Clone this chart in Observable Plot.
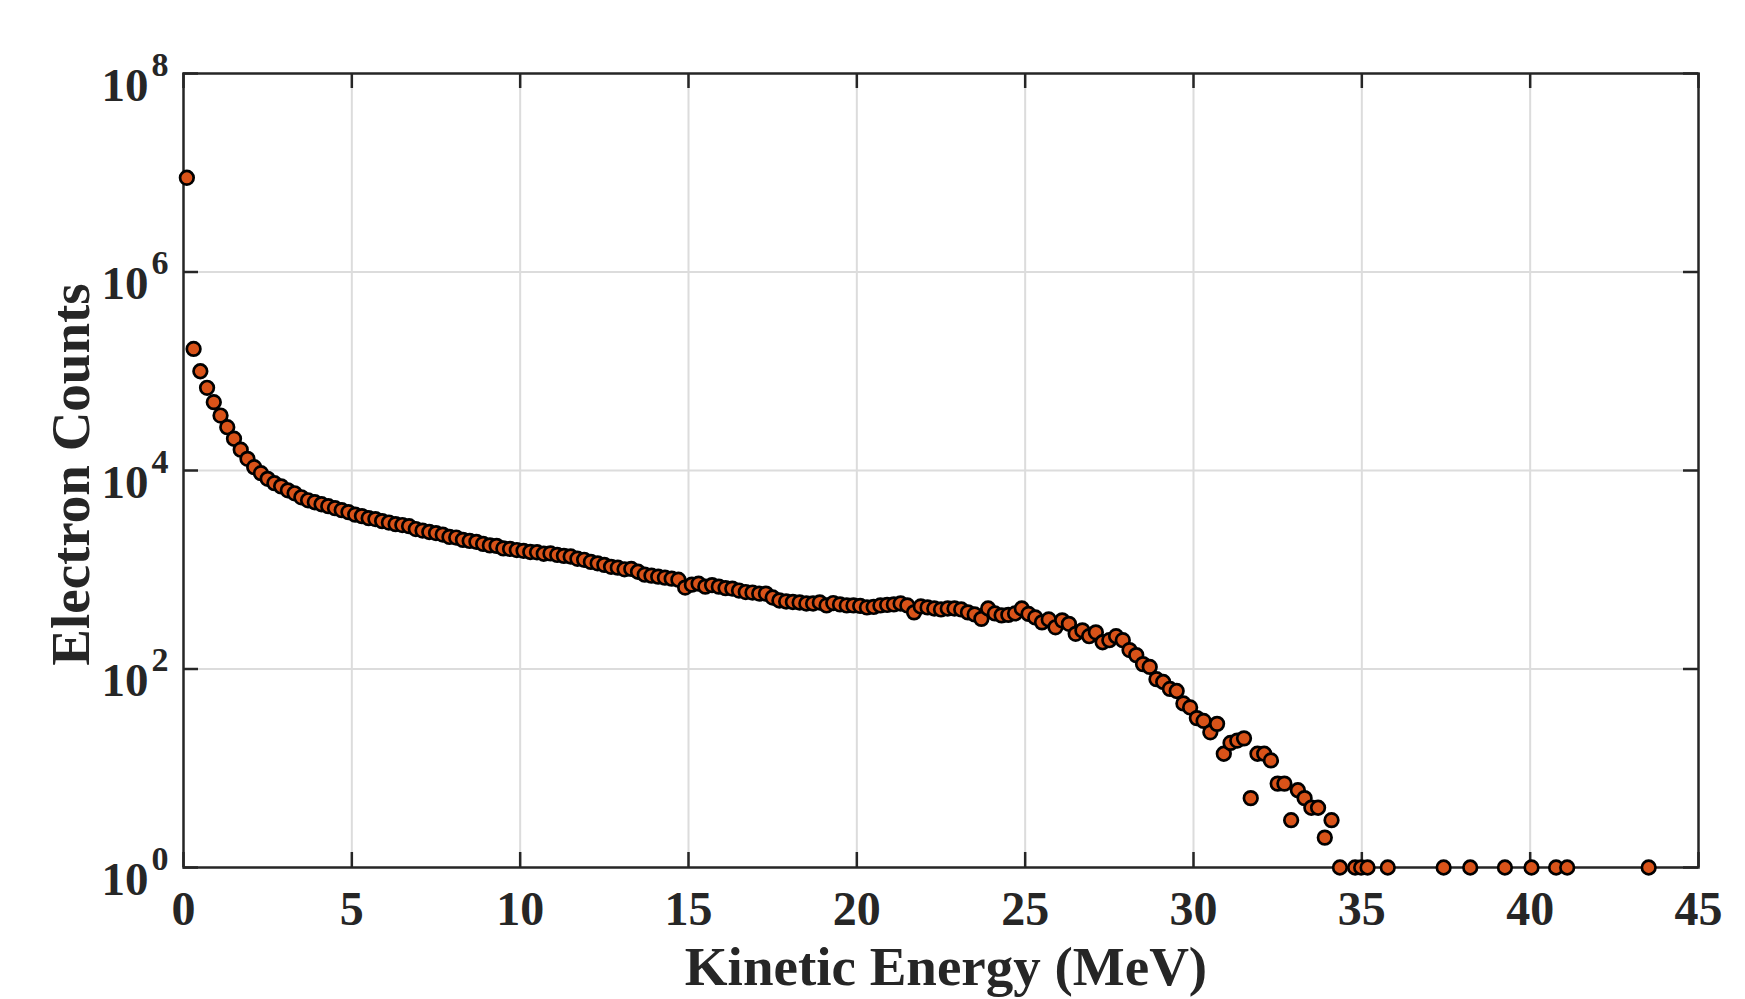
<!DOCTYPE html>
<html>
<head>
<meta charset="utf-8">
<script src="https://cdn.jsdelivr.net/npm/d3@7"></script>
<script src="https://cdn.jsdelivr.net/npm/@observablehq/plot@0.6"></script>
<style>
  html, body { margin: 0; padding: 0; background: #ffffff; }
  #chart svg { display: block; }
</style>
</head>
<body>
<div id="chart"></div>
<script>
// Kinetic energy bin centres (MeV) and electron counts
const energyMeV = [
  0.1, 0.3, 0.5, 0.7, 0.9, 1.1, 1.3, 1.5, 1.7, 1.9,
  2.1, 2.3, 2.5, 2.7, 2.9, 3.1, 3.3, 3.5, 3.7, 3.9,
  4.1, 4.3, 4.5, 4.7, 4.9, 5.1, 5.3, 5.5, 5.7, 5.9,
  6.1, 6.3, 6.5, 6.7, 6.9, 7.1, 7.3, 7.5, 7.7, 7.9,
  8.1, 8.3, 8.5, 8.7, 8.9, 9.1, 9.3, 9.5, 9.7, 9.9,
  10.1, 10.3, 10.5, 10.7, 10.9, 11.1, 11.3, 11.5, 11.7, 11.9,
  12.1, 12.3, 12.5, 12.7, 12.9, 13.1, 13.3, 13.5, 13.7, 13.9,
  14.1, 14.3, 14.5, 14.7, 14.9, 15.1, 15.3, 15.5, 15.7, 15.9,
  16.1, 16.3, 16.5, 16.7, 16.9, 17.1, 17.3, 17.5, 17.7, 17.9,
  18.1, 18.3, 18.5, 18.7, 18.9, 19.1, 19.3, 19.5, 19.7, 19.9,
  20.1, 20.3, 20.5, 20.7, 20.9, 21.1, 21.3, 21.5, 21.7, 21.9,
  22.1, 22.3, 22.5, 22.7, 22.9, 23.1, 23.3, 23.5, 23.7, 23.9,
  24.1, 24.3, 24.5, 24.7, 24.9, 25.1, 25.3, 25.5, 25.7, 25.9,
  26.1, 26.3, 26.5, 26.7, 26.9, 27.1, 27.3, 27.5, 27.7, 27.9,
  28.1, 28.3, 28.5, 28.7, 28.9, 29.1, 29.3, 29.5, 29.7, 29.9,
  30.1, 30.3, 30.5, 30.7, 30.9, 31.1, 31.3, 31.5, 31.7, 31.9,
  32.1, 32.3, 32.5, 32.7, 32.9, 33.1, 33.3, 33.5, 33.7, 33.9,
  34.1,
  34.35, 34.8, 34.98, 35.17, 35.77, 37.43, 38.22, 39.25, 40.04, 40.77, 41.1, 43.52
];
const electronCounts = [
  8900000, 168000, 100000, 68100, 48800, 35800, 27300, 20900, 16200, 13100,
  10800, 9400, 8240, 7450, 6920, 6310, 5890, 5370, 5010, 4790,
  4570, 4370, 4170, 3980, 3800, 3590, 3470, 3310, 3240, 3090,
  2990, 2880, 2820, 2750, 2570, 2480, 2400, 2340, 2260, 2140,
  2110, 2000, 1950, 1910, 1820, 1760, 1740, 1640, 1620, 1580,
  1550, 1510, 1500, 1450, 1460, 1410, 1380, 1360, 1290, 1260,
  1200, 1160, 1120, 1070, 1050, 1010, 1020, 955, 891, 871,
  851, 832, 813, 794, 661, 708, 724, 676, 700, 676,
  653, 646, 617, 596, 589, 575, 575, 525, 490, 479,
  473, 468, 457, 457, 468, 437, 462, 447, 437, 437,
  432, 417, 422, 437, 442, 447, 457, 437, 372, 427,
  417, 407, 398, 407, 407, 398, 372, 355, 320, 407,
  363, 347, 351, 363, 407, 359, 331, 295, 316, 263,
  309, 285, 226, 245, 214, 234, 186, 195, 214, 195,
  155, 138, 112, 105, 79, 74, 63, 60, 45, 41,
  32, 30, 23, 28, 14, 18, 19, 20, 5, 14,
  14, 12, 7, 7, 3, 6, 5, 4, 4, 2,
  3,
  1, 1, 1, 1, 1, 1, 1, 1, 1, 1, 1, 1
];

const xTicks = [0, 5, 10, 15, 20, 25, 30, 35, 40, 45];
const xGrid = [5, 10, 15, 20, 25, 30, 35, 40];
const yTicks = [1, 1e2, 1e4, 1e6, 1e8];
const yExponents = ["0", "2", "4", "6", "8"];
const yGrid = [1e2, 1e4, 1e6];
const xTitle = "Kinetic Energy (MeV)";
const yTitle = "Electron Counts";

const points = energyMeV.map((e, i) => ({energy: e, counts: electronCounts[i]}));
const yTickRows = yTicks.map((v, i) => ({v, exp: yExponents[i]}));

const W = 1745, H = 999;
const mL = 183, mR = 47, mT = 73, mB = 132;
const plotW = W - mL - mR, plotH = H - mT - mB;
const ink = "#262626";
const font = "Liberation Serif, Times New Roman, serif";
const tickLen = 15;

const chart = Plot.plot({
  width: W,
  height: H,
  marginLeft: mL,
  marginRight: mR,
  marginTop: mT,
  marginBottom: mB,
  style: {fontFamily: font, background: "#ffffff", color: ink},
  x: {domain: [0, 45], axis: null},
  y: {type: "log", domain: [1, 1e8], axis: null},
  marks: [
    Plot.ruleX(xGrid, {x: d => d, stroke: "#dcdcdc", strokeWidth: 2}),
    Plot.ruleY(yGrid, {y: d => d, stroke: "#dcdcdc", strokeWidth: 2}),
    // inward ticks: bottom, top, left, right
    Plot.tickX(xTicks, {x: d => d, insetTop: plotH - tickLen, stroke: ink, strokeWidth: 2.5}),
    Plot.tickX(xTicks, {x: d => d, insetBottom: plotH - tickLen, stroke: ink, strokeWidth: 2.5}),
    Plot.tickY(yTicks, {y: d => d, insetRight: plotW - tickLen, stroke: ink, strokeWidth: 2.5}),
    Plot.tickY(yTicks, {y: d => d, insetLeft: plotW - tickLen, stroke: ink, strokeWidth: 2.5}),
    Plot.frame({stroke: ink, strokeWidth: 2.5}),
    // x tick labels
    Plot.text(xTicks, {
      x: d => d, frameAnchor: "bottom", text: d => String(d),
      lineAnchor: "bottom", dy: 57, fontSize: 48, fontWeight: "bold", fill: ink
    }),
    // y tick labels: "10" with superscript exponent
    Plot.text(yTickRows, {
      y: "v", frameAnchor: "left", text: () => "10",
      textAnchor: "end", lineAnchor: "bottom", dx: -35, dy: 27,
      fontSize: 47, fontWeight: "bold", fill: ink
    }),
    Plot.text(yTickRows, {
      y: "v", frameAnchor: "left", text: "exp",
      textAnchor: "start", lineAnchor: "bottom", dx: -32, dy: 2,
      fontSize: 34, fontWeight: "bold", fill: ink
    }),
    // axis titles
    Plot.text([xTitle], {
      frameAnchor: "bottom", text: d => d, textAnchor: "middle",
      lineAnchor: "bottom", dy: 117, dx: 5, fontSize: 55, fontWeight: "bold", fill: ink
    }),
    Plot.text([yTitle], {
      frameAnchor: "left", text: d => d, textAnchor: "middle", rotate: -90,
      lineAnchor: "bottom", dx: -95, dy: 4, fontSize: 55, fontWeight: "bold", fill: ink
    }),
    // data
    Plot.dot(points, {
      x: "energy", y: "counts", r: 6.8,
      fill: "#D95319", stroke: "#000000", strokeWidth: 2.7
    })
  ]
});

document.getElementById("chart").appendChild(chart);
</script>
</body>
</html>
